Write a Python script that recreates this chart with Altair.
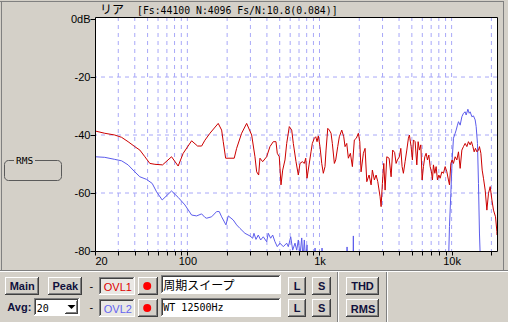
import altair as alt
import pandas as pd

# ---------------- data ----------------
red_freq = [20, 23.7, 28.2, 31.8, 35.6, 40.0, 43.7, 47.7, 52.0, 56.8, 64.9, 75.9, 85.2, 93.0,
            107.7, 119.5, 128.2, 135.8, 148.2, 171.2, 181.7, 186.9, 194.9, 226.3, 236.0, 257.5,
            281.0, 306.7, 324.8, 334.6, 346.4, 354.4, 371.5, 398.2, 421.8, 446.9, 468.5, 479.2,
            496.3, 511.2, 526.6, 548.2, 564.7, 591.0, 616.2, 633.7, 664.2, 691.4, 712.2, 741.4,
            767.8, 786.8, 804.7, 833.4, 862.9, 882.8, 914.1, 936.9, 958.3, 980.0, 1009, 1040,
            1069, 1101, 1121, 1155, 1187, 1223, 1251, 1296, 1327, 1374, 1413, 1474, 1526, 1561,
            1608, 1654, 1713, 1774, 1836, 1901, 1969, 2018, 2064, 2149, 2213, 2280, 2373, 2458,
            2513, 2603, 2681, 2762, 2875, 2926, 2992, 3066, 3137, 3231, 3364, 3441, 3483, 3581,
            3702, 3800, 3887, 4025, 4125, 4219, 4316, 4446, 4579, 4710, 4792, 4936, 5050, 5138,
            5293, 5453, 5579, 5706, 5847, 5982, 6118, 6270, 6414, 6561, 6723, 6878, 7035, 7159,
            7285, 7464, 7635, 7811, 8004, 8187, 8433, 8671, 8933, 9202, 9462, 9629, 9867, 10092,
            10325, 10637, 10955, 11267, 11604, 11953, 12291, 12662, 13043, 13411, 13815, 14130,
            14479, 14813, 15151, 15528, 15967, 16245, 16650, 17030, 17422, 17947, 18488, 19011,
            19584, 20174, 20744, 21482, 22013, 22050]
red_db = [-38.6, -39.4, -40.0, -40.8, -42.3, -44.0, -45.2, -47.5, -49.8, -50.1, -50.3, -47.5,
          -50.7, -46.3, -42.0, -43.8, -43.8, -41.8, -39.4, -36.0, -38.3, -42.3, -48.0, -48.0,
          -44.6, -39.4, -36.0, -40.0, -47.5, -52.7, -53.8, -48.0, -49.2, -47.5, -44.0, -42.3,
          -42.3, -46.3, -47.5, -57.2, -52.1, -48.6, -42.9, -37.1, -38.3, -42.9, -49.2, -53.8,
          -49.8, -49.2, -49.8, -48.0, -54.9, -50.3, -45.8, -42.9, -41.1, -40.6, -42.3, -40.3,
          -44.0, -49.8, -53.2, -50.9, -45.2, -37.7, -38.3, -39.4, -42.9, -49.8, -48.6, -44.0,
          -40.6, -38.3, -40.6, -44.0, -42.9, -48.0, -46.3, -50.9, -41.7, -41.1, -39.4, -42.3,
          -52.7, -46.3, -44.6, -56.1, -53.8, -57.2, -52.1, -55.5, -53.8, -56.1, -61.3, -64.7,
          -56.7, -49.8, -59.0, -47.5, -48.0, -52.1, -54.4, -45.2, -46.0, -49.8, -48.6, -47.5,
          -44.6, -50.9, -53.2, -49.2, -45.2, -41.1, -40.0, -44.0, -48.6, -41.7, -42.3, -50.3,
          -42.3, -45.2, -43.4, -55.5, -50.9, -47.5, -46.3, -48.6, -46.9, -50.9, -52.7, -55.5,
          -50.3, -53.2, -50.9, -55.5, -53.8, -54.9, -52.7, -53.2, -50.9, -52.7, -55.5, -57.2,
          -49.8, -48.6, -49.8, -47.5, -48.6, -45.8, -51.5, -45.2, -44.0, -42.9, -44.0, -42.3,
          -43.4, -42.3, -44.0, -45.8, -44.6, -45.8, -45.2, -44.0, -46.3, -52.1, -54.9, -59.0,
          -65.9, -60.1, -57.8, -62.4, -65.9, -68.2, -73.3, -74.5]

blue_freq = [20, 23.7, 28.2, 31.8, 35.6, 40.0, 43.7, 49.1, 54.2, 58.5, 64.5, 75.9, 85.2, 95.8,
             107.7, 117.5, 128.2, 135.8, 139.9, 152.6, 166.5, 174.3, 181.7, 195.9, 203.9, 222.4,
             236.0, 250.0, 272.8, 297.7, 312.1, 319.2, 330.6, 344.0, 358.7, 375.4, 398.2, 409.6,
             427.1, 442.3, 460.4, 479.2, 502.3, 532.1, 564.7, 580.7, 605.6, 627.0, 652.7, 672.3,
             691.4, 712.2, 733.8, 750.6, 767.8, 786.8, 804.7, 818.9, 910, 925.5, 940, 1035, 1045,
             1055, 1605, 1617, 1630, 1790, 1804, 1818, 9333, 9462, 9629, 9867, 10092, 10325,
             10637, 10822, 11071, 11267, 11604, 11953, 12291, 12662, 12884, 13274, 13577, 13815,
             14231, 14633, 15074, 15337, 15691, 15967, 16245, 16449, 16700]
blue_db = [-47.5, -47.7, -48.4, -48.9, -50.3, -52.7, -54.4, -55.3, -56.7, -59.6, -62.4, -59.3,
           -61.5, -64.1, -67.6, -67.9, -67.2, -68.4, -68.7, -68.2, -66.4, -66.4, -68.2, -71.0,
           -67.9, -69.3, -71.0, -72.2, -73.9, -74.8, -75.6, -73.9, -76.0, -74.5, -76.2, -75.1,
           -76.8, -73.9, -75.6, -74.5, -76.8, -78.5, -77.3, -78.5, -77.3, -78.5, -75.1, -79.7,
           -77.3, -79.7, -76.2, -81.4, -75.5, -83.0, -76.2, -84.0, -77.9, -92, -92, -79.0, -92,
           -92, -79.0, -92, -92, -78.6, -92, -92, -74.8, -92, -92, -85, -71.6, -60.1, -48.6,
           -41.1, -39.4, -38.3, -36.6, -35.4, -36.6, -33.7, -32.5, -32.0, -33.1, -31.1, -32.5,
           -32.0, -33.7, -33.4, -34.8, -37.1, -42.9, -56.7, -73.8, -81.4, -92]

grid_freq = [30, 40, 50, 60, 70, 80, 90, 100, 200, 300, 400, 500, 600, 700, 800, 900,
             1000, 2000, 3000, 4000, 5000, 6000, 7000, 8000, 9000, 10000, 20000]
grid_db = [-20, -40, -60]
x_tick_values = [20] + grid_freq
y_tick_values = [-80, -60, -40, -20, 0]

title_channel = "リア"
title_info = "[Fs:44100 N:4096 Fs/N:10.8(0.084)]"
ovl1_label = "周期スイープ"
ovl2_label = "WT 12500Hz"
avg_value = "20"

# ---------------- layout ----------------
W, H = 402, 234
OX, OY = 95, 17
BG = "#d4d0c8"

xscale = alt.Scale(type="log", domain=[20, 22050], nice=False)
yscale = alt.Scale(domain=[-80, 0.7], nice=False, zero=False)

xaxis = alt.Axis(values=x_tick_values,
                 labelExpr="datum.value == 20 ? '20' : datum.value == 100 ? '100' : "
                           "datum.value == 1000 ? '1k' : datum.value == 10000 ? '10k' : ''",
                 grid=False, domain=False, tickSize=4, tickColor="black", tickWidth=1,
                 labelFont="Liberation Sans", labelFontSize=11, labelColor="black",
                 labelPadding=0, labelOverlap=False, title=None)
yaxis = alt.Axis(values=y_tick_values,
                 labelExpr="datum.value == 0 ? '0dB' : '-' + abs(datum.value)",
                 grid=False, domain=False, tickSize=5, tickColor="black", tickWidth=1,
                 labelFont="Liberation Sans", labelFontSize=11, labelColor="black",
                 labelPadding=0, labelOverlap=False, title=None)

GRID_C = "#a8a8f8"
vgrid = alt.Chart(pd.DataFrame({"f": grid_freq})).mark_rule(
    color=GRID_C, strokeDash=[4, 4], strokeWidth=1).encode(
    x=alt.X("f:Q", scale=xscale, axis=xaxis))
hgrid = alt.Chart(pd.DataFrame({"db": grid_db})).mark_rule(
    color=GRID_C, strokeDash=[4, 4], strokeWidth=1).encode(
    y=alt.Y("db:Q", scale=yscale, axis=yaxis))

blue = alt.Chart(pd.DataFrame({"f": blue_freq, "db": blue_db})).mark_line(
    color="#5c5cec", strokeWidth=1, clip=True).encode(
    x=alt.X("f:Q", scale=xscale, axis=xaxis),
    y=alt.Y("db:Q", scale=yscale, axis=yaxis))
red = alt.Chart(pd.DataFrame({"f": red_freq, "db": red_db})).mark_line(
    color="#cc0000", strokeWidth=1, clip=True).encode(
    x=alt.X("f:Q", scale=xscale, axis=xaxis),
    y=alt.Y("db:Q", scale=yscale, axis=yaxis))

frame = alt.Chart(pd.DataFrame({"a": [0]})).mark_rect(
    filled=False, stroke="black", strokeWidth=1).encode(
    x=alt.value(0.5), x2=alt.value(W + 0.5), y=alt.value(0.5), y2=alt.value(H + 0.5))

# ---------------- window chrome ----------------
segs, rects = [], []


def hline(a, b, r, c):
    segs.append(dict(x=a - OX, x2=b + 1 - OX, y=r + 0.5 - OY, y2=r + 0.5 - OY, c=c))


def vline(col, a, b, c):
    segs.append(dict(x=col + 0.5 - OX, x2=col + 0.5 - OX, y=a - OY, y2=b + 1 - OY, c=c))


def box(x0, y0, x1, y1, fill):
    rects.append(dict(x=x0 - OX, x2=x1 + 1 - OX, y=y0 - OY, y2=y1 + 1 - OY, fill=fill))


def raised(x0, y0, x1, y1):
    hline(x0, x1 - 1, y0, "#ffffff")
    vline(x0, y0, y1 - 1, "#ffffff")
    hline(x0 + 1, x1 - 1, y1 - 1, "#808080")
    vline(x1 - 1, y0 + 1, y1 - 1, "#808080")
    hline(x0, x1, y1, "#404040")
    vline(x1, y0, y1, "#404040")


def sunken(x0, y0, x1, y1, fill):
    box(x0, y0, x1, y1, fill)
    hline(x0, x1 - 1, y0, "#808080")
    vline(x0, y0, y1 - 1, "#808080")
    hline(x0 + 1, x1 - 2, y0 + 1, "#404040")
    vline(x0 + 1, y0 + 1, y1 - 2, "#404040")
    hline(x0, x1, y1, "#ffffff")
    vline(x1, y0, y1, "#ffffff")


# panel frames
hline(0, 503, 1, "#808080")
vline(1, 1, 269, "#808080")
vline(503, 1, 269, "#808080")
hline(0, 507, 270, "#808080")
hline(0, 507, 271, "#ffffff")
vline(337, 272, 321, "#808080")
vline(338, 272, 321, "#ffffff")
vline(386, 272, 321, "#808080")
vline(387, 272, 321, "#ffffff")

# controls
sunken(99, 277, 134, 294, "#eae8e4")
sunken(99, 299, 134, 316, "#eae8e4")
sunken(161, 275, 280, 293, "#ffffff")
sunken(161, 298, 280, 316, "#ffffff")
sunken(34, 298, 79, 315, "#ffffff")
for b in [(5, 277, 38, 294), (48, 277, 81, 294), (138, 277, 157, 294), (138, 299, 157, 316),
          (288, 277, 305, 294), (312, 277, 330, 294), (288, 299, 305, 316), (312, 299, 330, 316),
          (346, 277, 378, 294), (346, 299, 378, 316), (65, 300, 77, 313)]:
    raised(*b)

rect_layer = alt.Chart(pd.DataFrame(rects)).mark_rect().encode(
    x=alt.X("x:Q", scale=None), x2="x2:Q", y=alt.Y("y:Q", scale=None), y2="y2:Q",
    fill=alt.Fill("fill:N", scale=None))
seg_layer = alt.Chart(pd.DataFrame(segs)).mark_rule(strokeWidth=1).encode(
    x=alt.X("x:Q", scale=None), x2="x2:Q", y=alt.Y("y:Q", scale=None), y2="y2:Q",
    color=alt.Color("c:N", scale=None))

dots = alt.Chart(pd.DataFrame({"x": [147.2 - OX, 147.2 - OX], "y": [286 - OY, 308 - OY]})).mark_circle(
    size=64, color="#ff0000", opacity=1).encode(
    x=alt.X("x:Q", scale=None), y=alt.Y("y:Q", scale=None))
tri = alt.Chart(pd.DataFrame({"x": [71.5 - OX], "y": [307 - OY]})).mark_point(
    shape="M -1 -0.5 L 1 -0.5 L 0 0.5 Z", size=64, filled=True, color="black", opacity=1).encode(
    x=alt.X("x:Q", scale=None), y=alt.Y("y:Q", scale=None))

# RMS group box
grp = alt.Chart(pd.DataFrame({"a": [0]})).mark_rect(
    filled=False, stroke="#5a5a5a", strokeWidth=1, cornerRadius=4).encode(
    x=alt.value(4.5 - OX), x2=alt.value(61.5 - OX), y=alt.value(160.5 - OY), y2=alt.value(180.5 - OY))
grp_bg = alt.Chart(pd.DataFrame({"a": [0]})).mark_rect(color=BG).encode(
    x=alt.value(14 - OX), x2=alt.value(35 - OX), y=alt.value(157 - OY), y2=alt.value(164 - OY))


def text_layer(rows, font, size, weight, align):
    df = pd.DataFrame(rows, columns=["x", "y", "t", "c"])
    df["x"] = df["x"] - OX
    df["y"] = df["y"] - OY
    return alt.Chart(df).mark_text(font=font, fontSize=size, fontWeight=weight, align=align,
                                   baseline="alphabetic").encode(
        x=alt.X("x:Q", scale=None), y=alt.Y("y:Q", scale=None), text="t:N",
        color=alt.Color("c:N", scale=None))


NAVY = "#10103c"
t_bold = text_layer([(22.2, 290, "Main", NAVY), (65.3, 290, "Peak", NAVY),
                     (297, 290, "L", NAVY), (321.7, 290, "S", NAVY),
                     (297, 312, "L", NAVY), (321.7, 312, "S", NAVY),
                     (362.5, 290, "THD", NAVY), (363, 312.5, "RMS", NAVY)],
                    "Liberation Sans", 11, "bold", "center")
t_bold_left = text_layer([(7.3, 311, "Avg:", NAVY)], "Liberation Sans", 11, "bold", "left")
t_reg = text_layer([(91.3, 290, "-", "black"), (91.3, 311, "-", "black"),
                    (117.8, 290.5, "OVL1", "#dd0000"), (117.8, 312.5, "OVL2", "#6464f0")],
                   "Liberation Sans", 11, "normal", "center")
t_cjk = text_layer([(100, 14, title_channel, "black"), (163.3, 290, ovl1_label, "black")],
                   "Noto Sans CJK JP", 12, "normal", "left")
t_mono = text_layer([(137, 14, title_info, "black")], "DejaVu Sans Mono", 9.8, "normal", "left")
t_mono2 = text_layer([(163.3, 311, ovl2_label, "black"), (36.7, 311.5, avg_value, "black")],
                     "DejaVu Sans Mono", 10, "normal", "left")
t_grp = text_layer([(24.7, 164.3, "RMS", "black")], "DejaVu Sans Mono", 9.5, "normal", "center")

chart = alt.layer(
    vgrid, hgrid, blue, red, frame,
    rect_layer, seg_layer, dots, tri, grp, grp_bg,
    t_bold, t_bold_left, t_reg, t_cjk, t_mono, t_mono2, t_grp,
).properties(
    width=W, height=H,
    padding={"left": OX, "top": OY, "right": 508 - OX - W, "bottom": 322 - OY - H},
    autosize=alt.AutoSizeParams(type="none"),
    background=BG,
).configure_view(fill="white", stroke="transparent")

chart.save("out.html", embed_options={"renderer": "svg", "actions": False})
